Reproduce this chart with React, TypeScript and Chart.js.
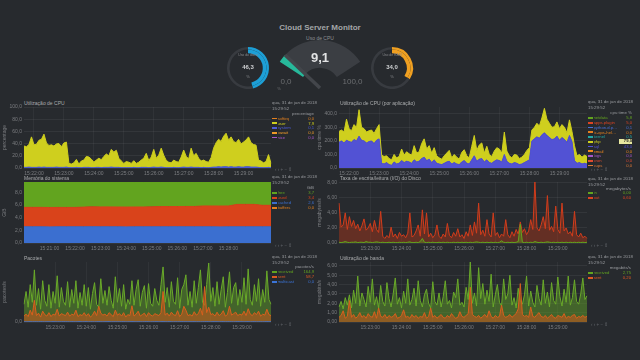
import React, { useEffect, useRef } from "react";
import { Chart, registerables } from "chart.js";

Chart.register(...registerables);

const FONT = "'Liberation Sans', Arial, Helvetica, sans-serif";
Chart.defaults.font.family = FONT;

// ================= DATA =================
const dashTitle = "Cloud Server Monitor";
const legendDate = "qua, 31 de jan de 2018";
const legendTime = "15:29:52";

const gaugeNames = ["Uso do disco", "Uso de CPU", "Uso de RAM"];
const gaugeValues = [46.3, 9.1, 34.0];
const gaugeRangeLabels = ["0,0", "100,0"];

// --- Utilização de CPU (percentage)
const cpuDims = ["softirq", "user", "system", "iowait", "nice"];
const cpuNow = ["0,0", "7,9", "0,1", "0,0", "0,0"];
const cpuUser = [35,34,37,50,37,38,44,46,54,40,36,37,35,38,39,34,40,41,7,6,8,13,6,11,12,18,17,14,9,12,15,13,18,22,19,29,25,28,15,11,7,10,9,7,11,7,9,12,15,23,12,17,29,15,20,31,20,12,9,8,12,10,9,17,28,18,14,31,19,23,15,11,12,10,9,16,31,40,45,42,50,55,44,49,42,40,45,38,41,44,49,40,37,36,12,11,8,10,21,7];
const cpuSystem = [1,1,1.5,1,1,1,1.5,1,1.5,1,1,1,1,1.5,1,1,1,1.5,0.5,0.5,0.5,1,0.5,0.5,1,1,1,0.5,0.5,1,1,0.5,1,1,1,1.5,1,1,1,0.5,0.5,0.5,0.5,0.5,1,0.5,0.5,1,1,1,0.5,1,1.5,1,1,1.5,1,0.5,0.5,0.5,1,0.5,0.5,1,1.5,1,1,1.5,1,1,1,0.5,1,0.5,0.5,1,1.5,1.5,2,1.5,2,2,1.5,2,1.5,1.5,2,1.5,1.5,2,2,1.5,1.5,1.5,1,0.5,0.5,0.5,1,0.5];

// --- Utilização de CPU (por aplicação) (cpu time %)
const appDims = ["netdata", "apps.plugin", "python.d.plugin", "tc-qos-helper", "kernel", "php", "sql", "email", "logs", "cron", "cups"];
const appNow = ["5,8", "5,0", "0,1", "0,0", "0,5", "79,0", "43,0", "0,0", "0,0", "0,0", "0,0"];
const appSql = [190,200,185,205,195,190,210,200,235,205,200,185,195,200,180,205,215,35,30,40,25,20,45,30,35,55,40,50,45,35,60,45,50,70,80,55,65,40,60,35,30,25,35,45,50,30,40,30,25,45,55,35,30,60,90,50,65,70,45,60,40,35,50,60,55,45,100,50,35,30,40,35,25,30,40,50,60,200,215,230,220,245,260,240,225,210,215,235,205,225,210,190,240,195,55,35,40,30,35,30];
const appPhp = [80,80,80,155,95,85,110,100,195,95,90,80,80,80,75,85,105,60,55,50,45,40,55,45,50,85,55,70,60,60,105,65,70,110,135,85,100,70,90,55,45,40,55,65,80,45,60,50,40,70,80,55,45,100,150,80,105,115,65,100,60,50,75,90,85,65,165,75,55,45,60,60,45,50,60,80,90,80,85,100,90,125,180,120,105,90,90,105,85,95,90,70,115,75,110,55,60,50,60,55];

// --- Memória do sistema (GiB)
const memDims = ["free", "used", "cached", "buffers"];
const memNow = ["3,7", "3,4", "2,6", "0,0"];
const memCached = [2.56,2.56,2.56,2.55,2.56,2.56,2.56,2.56,2.57,2.56,2.56,2.56,2.55,2.56,2.56,2.56,2.56,2.56,2.57,2.56,2.56,2.56,2.56,2.55,2.56,2.56,2.56,2.56,2.56,2.56];
const memUsed = [3.08,3.08,3.08,3.07,3.07,3.07,3.07,3.12,3.15,3.15,3.15,3.14,3.14,3.14,3.14,3.16,3.2,3.2,3.2,3.22,3.22,3.3,3.3,3.3,3.3,3.55,3.55,3.55,3.4,3.4];
const memFree = [4.01,4.01,4.01,4.03,4.02,4.02,4.02,3.97,3.93,3.94,3.94,3.95,3.96,3.95,3.95,3.93,3.89,3.89,3.88,3.87,3.87,3.79,3.79,3.8,3.79,3.54,3.54,3.54,3.69,3.69];

// --- Taxa de escrita/leitura (I/O) do Disco (megabytes/s)
const diskDims = ["in", "out"];
const diskNow = ["0,00", "0,60"];
const diskOut = [5.3,2.1,2.4,4.0,1.8,3.5,2.2,3.0,1.9,2.5,1.6,2.3,3.2,1.7,2.0,2.6,1.5,3.0,1.8,1.4,4.2,0.9,0.6,1.0,0.7,2.1,0.8,1.2,0.6,1.4,0.9,1.1,0.7,1.3,4.0,0.8,1.0,1.6,2.4,0.9,4.4,1.2,4.0,0.8,1.3,0.7,1.1,2.4,0.9,0.6,1.2,0.8,2.6,1.0,0.7,1.4,0.9,1.9,0.8,1.1,0.6,1.5,0.9,2.4,1.0,2.8,1.3,5.3,1.1,1.7,0.9,3.1,1.2,0.8,4.0,1.0,1.4,0.7,1.2,0.9,3.1,1.1,0.7,1.5,0.9,1.8,1.2,2.8,1.4,1.9,1.1,1.6,3.1,1.8,8.1,2.0,1.6,2.4,3.5,1.9,6.3,1.7,2.2,1.5,4.9,1.8,1.3,5.3,1.6,2.0,1.2,1.5,0.9,4.2,1.1,0.8,1.3,0.7,0.9,0.6];
const diskIn = [0.1,0.05,0.1,0.2,0.1,0.05,0.1,0.1,0.15,0.05,0.1,0.1,0.05,0.2,0.1,0.1,0.05,0.1,0.15,0.1,0.05,0.1,0.05,0.05,0.1,0.05,0.1,0.05,0.05,0.1,0.05,0.1,0.05,0.1,0.15,0.05,0.05,0.1,0.05,0.2,0.6,0.1,0.05,0.1,0.05,0.1,0.05,0.05,0.1,0.05,0.1,0.05,0.1,0.05,0.05,0.1,0.05,0.1,0.05,0.1,0.05,0.1,0.05,0.1,0.05,0.1,0.15,0.1,0.05,0.1,0.05,0.1,0.05,0.1,0.05,0.1,0.05,0.1,0.3,0.1,0.05,0.1,0.05,0.1,0.05,0.1,0.2,2.5,0.1,0.05,0.1,0.05,0.1,0.05,0.2,0.1,0.05,0.1,0.05,0.1,0.15,0.1,0.05,0.1,0.05,0.1,0.05,0.1,0.05,0.1,0.05,0.1,0.05,0.1,0.05,0.1,0.05,0.1,0.05,0.1];

// --- Pacotes (pacotes/s)
const pktDims = ["received", "sent", "multicast"];
const pktNow = ["164,9", "58,7", "0,0"];
const pktRecv = [180,310,150,380,200,530,170,340,130,420,220,160,380,140,310,190,470,150,350,210,170,410,150,330,190,420,140,300,170,380,160,350,130,290,400,180,150,440,190,320,170,360,220,140,460,200,340,160,380,130,230,180,420,170,330,430,160,300,370,140,390,190,160,340,220,170,380,560,200,350,150,410,210,180,450,140,330,380,480,170,310,150,420,190,350,530,200,170,380,600,210,350,160,410,180,330,460,150,300,510,190,350,400,170,330,200,450,180,540,230,170,380,210,440,160,330,200,520,230,180];
const pktSent = [60,80,55,120,70,220,65,90,50,110,75,60,95,55,80,70,130,60,85,75,65,100,60,80,70,120,55,75,65,95,60,85,50,70,110,65,160,90,70,80,60,95,75,55,120,70,85,60,95,50,75,65,165,60,80,110,60,75,90,55,95,70,60,85,75,65,95,310,70,90,60,100,75,65,115,55,80,160,120,65,75,60,105,70,85,140,70,360,95,150,75,85,60,100,65,80,115,60,75,160,70,85,100,65,80,70,110,65,135,80,65,95,75,110,60,80,70,130,75,65];
const pktMulti = [2,1,2,3,1,2,2,1,3,2,1,2,2,1,3,2,1,2,2,3,2,2,1,3,2,1,2,3,1,2,3,1,2,2,1,2,3,2,1,2,2,3,1,2,2,1,2,2,3,1,1,2,3,2,1,2,2,1,2,3,2,1,2,2,3,1,2,3,2,1,3,2,1,2,1,2,3,2,2,1,2,2,3,1,2,1,2,2,3,2,1,3,2,2,1,2,3,1,2,2,2,1,2,3,2,2,1,2,3,1,2,3,1,2,2,1,2,3,2,2];

// --- Utilização de banda (megabits/s)
const bwDims = ["received", "sent"];
const bwNow = ["2,75", "0,20"];
const bwRecv = [1.6,2.2,1.4,2.6,1.8,2.9,1.5,3.4,2.0,4.9,1.7,3.1,2.4,1.6,3.8,2.1,4.6,1.8,2.7,1.5,3.9,2.2,1.7,4.2,2.5,1.6,3.0,4.7,1.9,2.6,1.5,3.3,2.0,4.6,1.8,2.4,3.6,1.7,4.4,2.3,1.6,2.9,3.5,2.0,1.5,4.3,2.2,1.8,3.1,1.6,2.7,4.4,1.9,2.3,1.5,3.2,2.6,4.6,1.8,2.1,1.6,3.7,2.4,6.4,2.0,3.1,1.7,5.8,2.5,4.1,1.9,3.4,2.2,5.1,1.6,2.9,4.0,2.1,1.7,4.6,2.4,3.0,5.0,1.8,2.6,1.5,3.6,2.2,1.9,2.9,4.9,1.7,3.3,2.1,1.6,3.9,2.5,1.8,4.5,2.0,3.2,1.6,4.2,2.3,1.9,4.8,2.7,1.7,3.5,2.1,4.9,1.8,2.6,4.5,2.2,1.9,3.0,4.7,2.4,2.8];
const bwSent = [0.5,0.7,1.2,0.4,0.6,2.3,0.5,0.8,0.4,0.6,1.0,0.5,0.7,0.4,0.9,0.6,0.5,1.1,0.4,1.5,0.6,0.5,0.8,0.4,0.7,0.5,0.6,0.9,0.4,0.5,0.7,1.3,0.5,0.6,0.4,0.8,0.5,0.7,0.4,0.6,0.5,1.0,0.4,0.6,1.5,0.5,0.7,0.4,0.6,0.8,0.5,0.4,0.7,0.5,0.9,0.6,0.4,0.5,1.1,0.6,0.5,0.7,0.9,3.7,0.8,0.6,0.5,0.7,0.4,0.6,0.8,0.5,1.2,0.6,0.4,0.7,0.5,0.6,1.8,0.7,0.5,0.6,0.8,0.5,0.7,0.9,1.4,4.1,0.8,0.6,0.7,0.5,1.6,0.6,0.5,0.8,1.0,0.6,0.5,0.7,0.4,0.6,0.8,0.5,0.4,0.7,0.6,0.5,0.9,0.4,0.6,0.5,0.7,0.8,0.4,0.6,0.5,0.7,0.5,0.6];

// ================= STYLE =================
const BG = "#272a2e";
const TICK = "#7b7d80";
const TITLE = "#a9abad";
const YELLOW = "#cfcf1e";
const C = {
  orange: "#e4801e", yellow: YELLOW, blue: "#4b5bd6", purple: "#a656c8", green: "#62a41f",
  red: "#de4420", teal: "#22a8a6", violet: "#5252d4", memBlue: "#3b6fd0", memRed: "#d9431b",
};

const commaFmt = (v: number, d: number) => v.toFixed(d).replace(".", ",");

function makeTimes(n: number, endHMS: string, stepSec: number): string[] {
  const [h, m, s] = endHMS.split(":").map(Number);
  const end = h * 3600 + m * 60 + s;
  const out: string[] = [];
  for (let i = 0; i < n; i++) {
    const t = end - (n - 1 - i) * stepSec;
    const parts = [Math.floor(t / 3600), Math.floor((t % 3600) / 60), t % 60];
    out.push(parts.map((x) => String(x).padStart(2, "0")).join(":"));
  }
  return out;
}

type Series = { label: string; data: number[]; line: string; area: string; fill: any; width?: number };
type PanelProps = {
  left: number; top: number; width: number; height: number;
  labels: string[]; series: Series[]; stacked: boolean;
  yMax: number; yStep: number; yDec: number; yTitle: string;
};

function Panel(p: PanelProps) {
  const ref = useRef<HTMLCanvasElement>(null);
  useEffect(() => {
    const n = p.labels.length;
    const chart = new Chart(ref.current as HTMLCanvasElement, {
      type: "line",
      data: {
        labels: p.labels,
        datasets: p.series.map((s) => ({
          label: s.label, data: s.data, borderColor: s.line, backgroundColor: s.area,
          borderWidth: s.width ?? 1, pointRadius: 0, tension: 0, fill: s.fill,
        })),
      },
      options: {
        responsive: false, animation: false, events: [],
        layout: { padding: { top: 7, right: 1, left: 0, bottom: 0 } },
        plugins: { legend: { display: false }, tooltip: { enabled: false } },
        scales: {
          x: {
            grid: { color: "rgba(255,255,255,0.045)", drawTicks: false },
            border: { display: false },
            ticks: {
              autoSkip: false, maxRotation: 0, padding: 3, color: TICK, font: { size: 5 },
              callback: function (this: any, v: any, i: number) {
                const l = this.getLabelForValue(v);
                return l.endsWith(":00") && i > 2 && i < n - 3 ? l : null;
              },
            },
            afterFit: (s: any) => { s.height = 10; },
          },
          y: {
            stacked: p.stacked, min: 0, max: p.yMax,
            grid: { color: "rgba(255,255,255,0.06)", drawTicks: false },
            border: { display: false },
            ticks: {
              stepSize: p.yStep, includeBounds: false, padding: 2, color: TICK, font: { size: 5 },
              callback: (v: any) => {
                const r = Number(v) / p.yStep;
                return Math.abs(r - Math.round(r)) < 1e-6 ? commaFmt(Number(v), p.yDec) : null;
              },
            },
            title: { display: true, text: p.yTitle, color: TICK, font: { size: 5 }, padding: { top: 2, bottom: 0 } },
            afterFit: (s: any) => { s.width = 24; },
          },
        },
      } as any,
    });
    return () => chart.destroy();
  }, []);
  return (
    <canvas ref={ref} width={p.width} height={p.height}
      style={{ position: "absolute", left: p.left, top: p.top, width: p.width, height: p.height }} />
  );
}

function Ring({ cx, cy, value, color }: { cx: number; cy: number; value: number; color: string }) {
  const ref = useRef<HTMLCanvasElement>(null);
  useEffect(() => {
    const chart = new Chart(ref.current as HTMLCanvasElement, {
      type: "doughnut",
      data: {
        datasets: [
          { data: [value, 100 - value], backgroundColor: [color, "#383b40"], borderWidth: 0, weight: 1 },
          { data: [value, 100 - value], backgroundColor: [color, "rgba(0,0,0,0)"], borderWidth: 0, weight: 1.4 },
        ],
      },
      options: {
        responsive: false, animation: false, events: [], radius: 21, cutout: 17.6,
        plugins: { legend: { display: false }, tooltip: { enabled: false } },
      } as any,
    });
    return () => chart.destroy();
  }, []);
  return <canvas ref={ref} width={50} height={50} style={{ position: "absolute", left: cx - 25, top: cy - 25 }} />;
}

const needlePlugin = {
  id: "needle",
  afterDatasetsDraw(chart: any) {
    const arc = chart.getDatasetMeta(0).data[0];
    const { x, y, outerRadius, endAngle } = arc.getProps(["x", "y", "outerRadius", "endAngle"], true);
    const ctx = chart.ctx;
    ctx.save();
    ctx.strokeStyle = "#43464b";
    ctx.lineWidth = 3.5;
    ctx.beginPath();
    ctx.moveTo(x, y);
    ctx.lineTo(x + Math.cos(endAngle) * outerRadius, y + Math.sin(endAngle) * outerRadius);
    ctx.stroke();
    ctx.restore();
  },
};

function Gauge({ value }: { value: number }) {
  const ref = useRef<HTMLCanvasElement>(null);
  useEffect(() => {
    const chart = new Chart(ref.current as HTMLCanvasElement, {
      type: "doughnut",
      data: { datasets: [{ data: [value, 100 - value], backgroundColor: ["#27b99b", "#3b3e43"], borderWidth: 0 }] },
      options: {
        responsive: false, animation: false, events: [], circumference: 114, rotation: -57, cutout: "42%",
        layout: { padding: { left: 9.75, right: 9.75, top: 0, bottom: 23 } },
        plugins: { legend: { display: false }, tooltip: { enabled: false } },
      } as any,
      plugins: [needlePlugin],
    });
    return () => chart.destroy();
  }, []);
  return <canvas ref={ref} width={100} height={60} style={{ position: "absolute", left: 270, top: 40 }} />;
}

function T({ x, y, s, c, bold, align, children, w }: any) {
  const tx = align === "center" ? "translateX(-50%)" : align === "right" ? "translateX(-100%)" : "none";
  return (
    <div style={{
      position: "absolute", left: x, top: y - s * 0.6, fontSize: s, lineHeight: `${s * 1.2}px`,
      color: c, fontWeight: bold ? "bold" : "normal", whiteSpace: "nowrap", transform: tx,
      width: w, overflow: w ? "hidden" : undefined, textOverflow: w ? "ellipsis" : undefined,
    }}>{children}</div>
  );
}

type LegendProps = {
  x: number; right: number; dateY: number; unitY: number; rowY: number; gap: number; toolY: number;
  unit: string; names: string[]; colors: string[]; values: string[]; hl?: number;
};

function Legend(p: LegendProps) {
  const nameW = p.right - p.x - 20;
  return (
    <>
      <T x={p.x} y={p.dateY} s={4.4} c="#9a9ca0">{legendDate}</T>
      <T x={p.x} y={p.dateY + 5.3} s={4.4} c="#9a9ca0">{legendTime}</T>
      <T x={p.right} y={p.unitY} s={4.4} c="#9a9ca0" align="right">{p.unit}</T>
      {p.names.map((nm, i) => (
        <React.Fragment key={nm}>
          <div style={{ position: "absolute", left: p.x, top: p.rowY + i * p.gap - 0.8, width: 4.5, height: 1.6, background: p.colors[i] }} />
          <T x={p.x + 5.5} y={p.rowY + i * p.gap} s={4.2} c={p.colors[i]} w={nameW}>{nm}</T>
          {p.hl === i ? (
            <div style={{ position: "absolute", left: p.right - 13, top: p.rowY + i * p.gap - 2.4, width: 13, height: 4.8, background: "#e8e8a0", color: "#222", fontSize: 4.2, lineHeight: "4.8px", textAlign: "right", fontWeight: "bold" }}>{p.values[i]}</div>
          ) : (
            <T x={p.right} y={p.rowY + i * p.gap} s={4.2} c={p.colors[i]} align="right">{p.values[i]}</T>
          )}
        </React.Fragment>
      ))}
      <T x={p.x + 3} y={p.toolY} s={4.5} c="#606368">{"‹  ›  +  −  ⇕"}</T>
    </>
  );
}

export default function App() {
  const cpuLabels = makeTimes(cpuUser.length, "15:29:55", 5);
  const memLabels = makeTimes(memUsed.length, "15:29:40", 20);
  const ioLabels = makeTimes(diskOut.length, "15:29:56", 4);

  const cpuColors = [C.orange, C.yellow, C.blue, "#f09a28", C.purple];
  const appColors = [C.green, C.red, "#4a70d8", C.orange, C.teal, C.yellow, C.violet, "#f08a20", C.purple, "#e04a30", "#e07a38"];
  const memColors = [C.green, C.memRed, C.memBlue, C.orange];
  const diskColors = [C.green, C.red];
  const pktColors = [C.green, "#e05a22", "#3b74d8"];
  const bwColors = [C.green, "#e05a22"];

  return (
    <div style={{ position: "fixed", left: 0, top: 0, width: 640, height: 360, background: BG, overflow: "hidden", fontFamily: FONT }}>
      <T x={320} y={28} s={8} c="#a4a6a8" bold align="center">{dashTitle}</T>
      <T x={320} y={37.5} s={5} c="#8e9093" align="center">{gaugeNames[1]}</T>

      <Ring cx={248} cy={68} value={gaugeValues[0]} color="#1d9fd6" />
      <T x={248} y={55} s={3.4} c="#85878a" align="center">{gaugeNames[0]}</T>
      <T x={248} y={68} s={6} c="#d0d2d4" bold align="center">{commaFmt(gaugeValues[0], 1)}</T>
      <T x={248} y={77} s={4} c="#85878a" align="center">%</T>

      <Gauge value={gaugeValues[1]} />
      <T x={320} y={57.5} s={13} c="#e2e3e4" bold align="center">{commaFmt(gaugeValues[1], 1)}</T>
      <T x={286} y={82} s={8} c="#6c6e71" align="center">{gaugeRangeLabels[0]}</T>
      <T x={352.5} y={82} s={8} c="#6c6e71" align="center">{gaugeRangeLabels[1]}</T>
      <T x={279} y={89} s={4} c="#6c6e71" align="center">%</T>

      <Ring cx={392} cy={68} value={gaugeValues[2]} color="#f0a021" />
      <T x={392} y={55} s={3.4} c="#85878a" align="center">{gaugeNames[2]}</T>
      <T x={392} y={68} s={6} c="#d0d2d4" bold align="center">{commaFmt(gaugeValues[2], 1)}</T>
      <T x={392} y={77} s={4} c="#85878a" align="center">%</T>

      {/* Row 1 */}
      <T x={24} y={103} s={5} c={TITLE}>Utilização de CPU</T>
      <Panel left={0} top={100} width={272} height={78} labels={cpuLabels} stacked yMax={100} yStep={10} yDec={1} yTitle="percentage"
        series={[
          { label: "system", data: cpuSystem, line: C.blue, area: C.blue, fill: "origin" },
          { label: "user", data: cpuUser, line: YELLOW, area: YELLOW, fill: "-1" },
        ]} />
      <Legend x={272} right={314} dateY={103} unitY={114} rowY={118.5} gap={4.75} toolY={170}
        unit="percentage" names={cpuDims} colors={cpuColors} values={cpuNow} />

      <T x={340} y={103} s={5} c={TITLE}>Utilização de CPU (por aplicação)</T>
      <Panel left={315} top={100} width={273} height={78} labels={cpuLabels} stacked yMax={450} yStep={50} yDec={1} yTitle="cpu time %"
        series={[
          { label: "sql", data: appSql, line: C.violet, area: C.violet, fill: "origin" },
          { label: "php", data: appPhp, line: YELLOW, area: YELLOW, fill: "-1" },
        ]} />
      <Legend x={588} right={632} dateY={102} unitY={113} rowY={118} gap={4.75} toolY={170}
        unit="cpu time %" names={appDims} colors={appColors} values={appNow} hl={5} />

      {/* Row 2 */}
      <T x={24} y={178} s={5} c={TITLE}>Memória do sistema</T>
      <Panel left={0} top={175} width={272} height={78} labels={memLabels} stacked yMax={9.65} yStep={2} yDec={1} yTitle="GiB"
        series={[
          { label: "cached", data: memCached, line: C.memBlue, area: C.memBlue, fill: "origin" },
          { label: "used", data: memUsed, line: C.memRed, area: C.memRed, fill: "-1" },
          { label: "free", data: memFree, line: C.green, area: C.green, fill: "-1" },
        ]} />
      <Legend x={272} right={314} dateY={177} unitY={188} rowY={193} gap={5} toolY={246}
        unit="GiB" names={memDims} colors={memColors} values={memNow} />

      <T x={340} y={178} s={5} c={TITLE}>Taxa de escrita/leitura (I/O) do Disco</T>
      <Panel left={315} top={175} width={273} height={78} labels={ioLabels} stacked={false} yMax={8.1} yStep={1} yDec={2} yTitle="megabytes/s"
        series={[
          { label: "in", data: diskIn, line: C.green, area: "rgba(98,164,31,0.4)", fill: "origin" },
          { label: "out", data: diskOut, line: "#d23d1c", area: "rgba(185,55,25,0.42)", fill: "origin" },
        ]} />
      <Legend x={588} right={631} dateY={179} unitY={189} rowY={193} gap={5} toolY={246}
        unit="megabytes/s" names={diskDims} colors={diskColors} values={diskNow} />

      {/* Row 3 */}
      <T x={24} y={258} s={5} c={TITLE}>Pacotes</T>
      <Panel left={0} top={255} width={272} height={77} labels={ioLabels} stacked={false} yMax={610} yStep={100} yDec={1} yTitle="pacotes/s"
        series={[
          { label: "multicast", data: pktMulti, line: "#3b74d8", area: "rgba(0,0,0,0)", fill: false },
          { label: "sent", data: pktSent, line: "#d8601e", area: "rgba(205,90,30,0.55)", fill: "origin" },
          { label: "received", data: pktRecv, line: "#6aaa2a", area: "rgba(95,158,40,0.5)", fill: "origin" },
        ]} />
      <Legend x={272} right={314} dateY={257} unitY={267} rowY={272} gap={5} toolY={325}
        unit="pacotes/s" names={pktDims} colors={pktColors} values={pktNow} />

      <T x={340} y={258} s={5} c={TITLE}>Utilização de banda</T>
      <Panel left={315} top={255} width={273} height={77} labels={ioLabels} stacked={false} yMax={6.4} yStep={1} yDec={2} yTitle="megabits/s"
        series={[
          { label: "sent", data: bwSent, line: "#d8601e", area: "rgba(205,90,30,0.55)", fill: "origin" },
          { label: "received", data: bwRecv, line: "#6aaa2a", area: "rgba(95,158,40,0.5)", fill: "origin" },
        ]} />
      <Legend x={588} right={631} dateY={257} unitY={268} rowY={273} gap={5} toolY={325}
        unit="megabits/s" names={bwDims} colors={bwColors} values={bwNow} />
    </div>
  );
}
